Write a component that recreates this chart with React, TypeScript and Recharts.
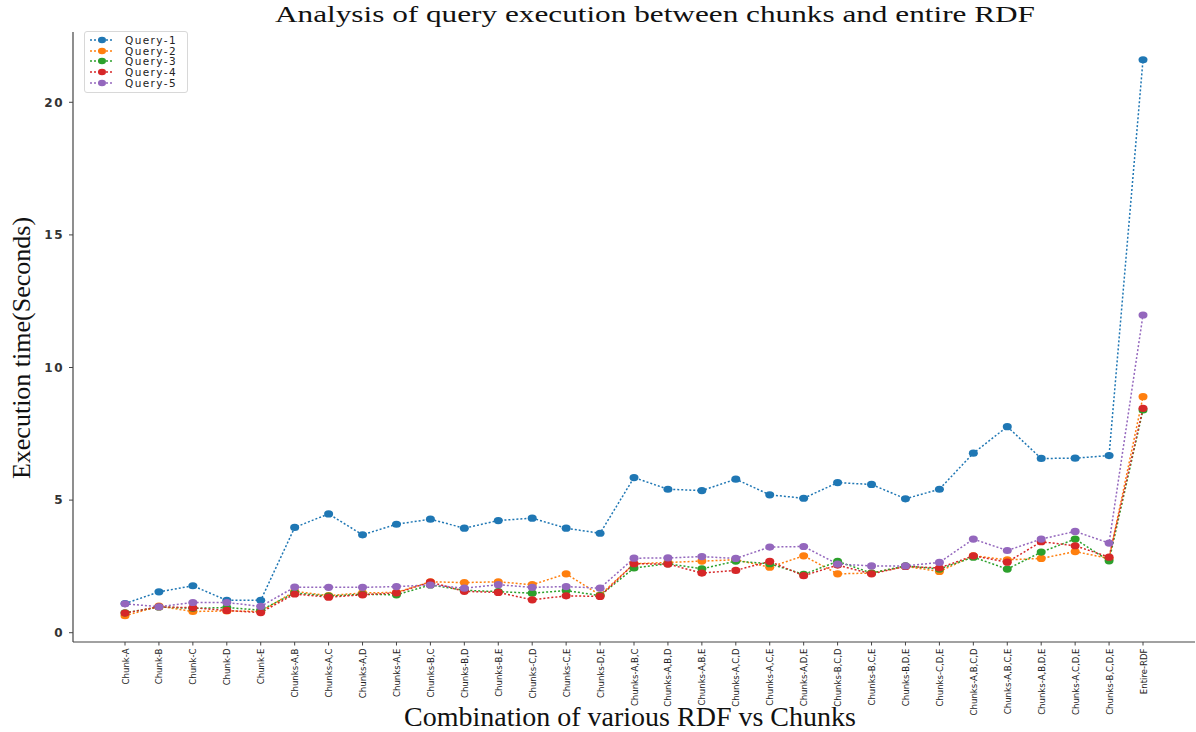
import { LineChart, Line, XAxis, YAxis, Legend } from 'recharts';

const categories = [
  'Chunk-A', 'Chunk-B', 'Chunk-C', 'Chunk-D', 'Chunk-E',
  'Chunks-A,B', 'Chunks-A,C', 'Chunks-A,D', 'Chunks-A,E', 'Chunks-B,C',
  'Chunks-B,D', 'Chunks-B,E', 'Chunks-C,D', 'Chunks-C,E', 'Chunks-D,E',
  'Chunks-A,B,C', 'Chunks-A,B,D', 'Chunks-A,B,E', 'Chunks-A,C,D', 'Chunks-A,C,E',
  'Chunks-A,D,E', 'Chunks-B,C,D', 'Chunks-B,C,E', 'Chunks-B,D,E', 'Chunks-C,D,E',
  'Chunks-A,B,C,D', 'Chunks-A,B,C,E', 'Chunks-A,B,D,E', 'Chunks-A,C,D,E', 'Chunks-B,C,D,E',
  'Entire-RDF',
];

const query1 = [
  1.1, 1.54, 1.77, 1.22, 1.22,
  3.97, 4.48, 3.69, 4.09, 4.28,
  3.94, 4.23, 4.32, 3.94, 3.75,
  5.85, 5.41, 5.36, 5.79, 5.2,
  5.07, 5.66, 5.59, 5.05, 5.41,
  6.77, 7.77, 6.57, 6.58, 6.68,
  21.6,
];
const query2 = [
  0.64, 1.0, 0.8, 0.82, 0.8,
  1.56, 1.4, 1.5, 1.52, 1.92,
  1.89, 1.92, 1.81, 2.22, 1.42,
  2.6, 2.65, 2.7, 2.75, 2.47,
  2.9, 2.22, 2.25, 2.5, 2.31,
  2.9, 2.75, 2.8, 3.06, 2.8,
  8.9,
];
const query3 = [
  0.75, 0.97, 0.92, 0.95, 0.85,
  1.5, 1.38, 1.45, 1.43, 1.8,
  1.6, 1.55, 1.49, 1.59, 1.4,
  2.44, 2.6, 2.41, 2.7, 2.6,
  2.2, 2.69, 2.25, 2.52, 2.4,
  2.85, 2.4, 3.04, 3.53, 2.71,
  8.4,
];
const query4 = [
  0.74, 0.98, 0.94, 0.84, 0.76,
  1.46, 1.34, 1.43, 1.5, 1.91,
  1.56, 1.52, 1.24, 1.39, 1.37,
  2.6, 2.59, 2.25, 2.35, 2.69,
  2.15, 2.55, 2.22, 2.5, 2.44,
  2.9, 2.66, 3.43, 3.28, 2.85,
  8.46,
];
const query5 = [
  1.09, 0.98, 1.14, 1.14, 0.99,
  1.72, 1.71, 1.71, 1.74, 1.8,
  1.68, 1.81, 1.71, 1.74, 1.68,
  2.81, 2.82, 2.87, 2.8, 3.23,
  3.25, 2.59, 2.52, 2.52, 2.65,
  3.53, 3.1, 3.53, 3.82, 3.38,
  11.98,
];

const yTicks = [0, 5, 10, 15, 20];

const SERIES = [
  { key: 'q1', name: 'Query-1', color: '#1f77b4', values: query1 },
  { key: 'q2', name: 'Query-2', color: '#ff7f0e', values: query2 },
  { key: 'q3', name: 'Query-3', color: '#2ca02c', values: query3 },
  { key: 'q4', name: 'Query-4', color: '#d62728', values: query4 },
  { key: 'q5', name: 'Query-5', color: '#9467bd', values: query5 },
];

const data = categories.map((name, i) => {
  const row: Record<string, string | number> = { name };
  SERIES.forEach((s) => {
    row[s.key] = s.values[i];
  });
  return row;
});

const XTick = ({ x, y, payload }: any) => (
  <text
    x={x}
    y={y}
    transform={`rotate(-90, ${x}, ${y})`}
    textAnchor="end"
    dominantBaseline="central"
    fontFamily="'Liberation Sans Narrow', 'DejaVu Sans Condensed', sans-serif"
    fontSize={9.5}
    fill="#222"
  >
    {payload.value}
  </text>
);

const makeDot = (color: string) => (props: any) => {
  const { cx, cy, index } = props;
  if (cx == null || cy == null) return <g key={index} />;
  return <ellipse key={index} cx={cx} cy={cy} rx={4.5} ry={3.6} fill={color} />;
};

const LegendBox = () => (
  <div
    style={{
      border: '1px solid #d8d8d8',
      borderRadius: 3,
      background: '#fff',
      padding: '3px 6px 4px 4px',
      width: 92,
    }}
  >
    {SERIES.map((s) => (
      <div key={s.key} style={{ display: 'flex', alignItems: 'center', height: 10.6 }}>
        <svg width={26} height={8} style={{ marginRight: 10 }}>
          <line x1={1} y1={4} x2={25} y2={4} stroke={s.color} strokeWidth={1.5} strokeDasharray="2 2" />
          <ellipse cx={13} cy={4} rx={4} ry={3.2} fill={s.color} />
        </svg>
        <span
          style={{
            fontFamily: "'DejaVu Sans', sans-serif",
            fontSize: 10.5,
            letterSpacing: 1.4,
            color: '#222',
            lineHeight: '10px',
          }}
        >
          {s.name}
        </span>
      </div>
    ))}
  </div>
);

export default function App() {
  return (
    <div style={{ position: 'absolute', left: 0, top: 0, width: 1196, height: 732, background: '#fff' }}>
      <LineChart
        width={1196}
        height={732}
        data={data}
        margin={{ top: 32, right: 1, bottom: 0, left: 0 }}
      >
        <XAxis
          dataKey="name"
          interval={0}
          height={90}
          padding={{ left: 52, right: 52 }}
          tick={<XTick />}
          tickSize={3.5}
          tickMargin={3}
          axisLine={{ stroke: '#444', strokeWidth: 1.2 }}
          tickLine={{ stroke: '#444' }}
        />
        <XAxis
          xAxisId="top"
          orientation="top"
          dataKey="name"
          height={0}
          tick={false}
          tickLine={false}
          axisLine={{ stroke: '#666', strokeWidth: 1.2 }}
        />
        <YAxis
          width={73}
          domain={[-0.35, 22.65]}
          ticks={yTicks}
          allowDataOverflow
          tickSize={4}
          tickMargin={5}
          axisLine={{ stroke: '#444', strokeWidth: 1.2 }}
          tickLine={{ stroke: '#444' }}
          tick={{ fontFamily: "'DejaVu Sans', sans-serif", fontSize: 12, fontWeight: 'bold', fill: '#333', letterSpacing: 1.5 }}
        />
        <Legend
          layout="vertical"
          align="center"
          verticalAlign="middle"
          content={<LegendBox />}
          wrapperStyle={{ position: 'absolute', left: 84, top: 31, width: 'auto', height: 'auto' }}
        />
        {SERIES.map((s) => (
          <Line
            key={s.key}
            dataKey={s.key}
            name={s.name}
            type="linear"
            stroke={s.color}
            strokeWidth={1.5}
            strokeDasharray="2 2"
            dot={makeDot(s.color)}
            activeDot={false}
            isAnimationActive={false}
          />
        ))}
      </LineChart>
      <svg
        width={1196}
        height={732}
        style={{ position: 'absolute', left: 0, top: 0, pointerEvents: 'none' }}
      >
        <text
          x={655}
          y={22}
          textAnchor="middle"
          fontFamily="'Liberation Serif', 'Times New Roman', serif"
          fontSize={24}
          fill="#111"
          textLength={760}
          lengthAdjust="spacingAndGlyphs"
        >
          Analysis of query execution between chunks and entire RDF
        </text>
        <text
          x={630}
          y={726}
          textAnchor="middle"
          fontFamily="'Liberation Serif', 'Times New Roman', serif"
          fontSize={28}
          fill="#111"
        >
          Combination of various RDF vs Chunks
        </text>
        <text
          x={30}
          y={348}
          textAnchor="middle"
          transform="rotate(-90, 30, 348)"
          fontFamily="'Liberation Serif', 'Times New Roman', serif"
          fontSize={26}
          fill="#111"
        >
          Execution time(Seconds)
        </text>
      </svg>
    </div>
  );
}
